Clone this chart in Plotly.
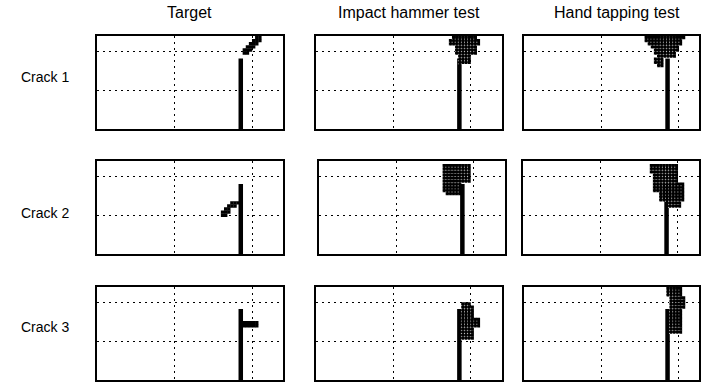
import numpy as np
import plotly.graph_objects as go

# Plate coordinates (m): width 1.2, height 0.6; grid at 0.5 / 1.0 and 0.25 / 0.5
PLATE_W = 1.2
PLATE_H = 0.6
GRID_X = [0.5, 1.0]
GRID_Y = [0.25, 0.5]
CELL = 0.02

COLUMN_TITLES = ["Target", "Impact hammer test", "Hand tapping test"]
ROW_LABELS = ["Crack 1", "Crack 2", "Crack 3"]

# Saw-cut slot for each crack case: x position and tip height
CRACK_X = [0.927, 0.927, 0.927]
CRACK_TOP = [0.455, 0.452, 0.458]

# Damaged cells as row runs: (cell-centre y, first cell-centre x, last cell-centre x)
TARGET_CELLS = [
    [(0.49, 0.95, 0.97), (0.51, 0.95, 0.99), (0.53, 0.97, 1.01),
     (0.55, 0.99, 1.03), (0.57, 1.01, 1.05), (0.59, 1.03, 1.05)],
    [(0.33, 0.87, 0.91), (0.31, 0.85, 0.89), (0.29, 0.83, 0.85),
     (0.27, 0.81, 0.85), (0.25, 0.81, 0.83)],
    [(0.37, 0.95, 1.03), (0.35, 0.95, 1.03)],
]

HAMMER_CELLS = [
    [(0.59, 0.89, 1.03), (0.57, 0.87, 1.05), (0.55, 0.87, 1.05),
     (0.53, 0.91, 1.03), (0.51, 0.91, 1.03), (0.49, 0.91, 1.03),
     (0.47, 0.93, 0.99), (0.45, 0.93, 0.99), (0.43, 0.93, 0.99)],
    [(0.57, 0.81, 0.97), (0.55, 0.81, 0.97), (0.53, 0.81, 0.97),
     (0.51, 0.81, 0.97), (0.49, 0.81, 0.97), (0.47, 0.81, 0.97),
     (0.45, 0.81, 0.91), (0.43, 0.81, 0.91), (0.41, 0.81, 0.91),
     (0.39, 0.83, 0.91)],
    [(0.49, 0.95, 0.99), (0.47, 0.95, 1.01), (0.45, 0.95, 1.01),
     (0.43, 0.95, 1.01), (0.41, 0.95, 1.01), (0.39, 0.95, 1.05),
     (0.37, 0.95, 1.05), (0.35, 0.95, 1.05), (0.33, 0.95, 1.01),
     (0.31, 0.95, 1.01), (0.29, 0.95, 1.01), (0.27, 0.95, 1.01)],
]

TAPPING_CELLS = [
    [(0.59, 0.79, 1.03), (0.57, 0.79, 1.01), (0.55, 0.81, 1.01),
     (0.53, 0.83, 0.99), (0.51, 0.85, 0.99), (0.49, 0.85, 0.97),
     (0.47, 0.87, 0.97), (0.45, 0.85, 0.89), (0.43, 0.85, 0.89),
     (0.41, 0.87, 0.89)],
    [(0.57, 0.83, 0.99), (0.55, 0.83, 0.99), (0.53, 0.83, 0.99),
     (0.51, 0.85, 0.99), (0.49, 0.85, 0.99), (0.47, 0.85, 0.99),
     (0.45, 0.85, 1.03), (0.43, 0.85, 1.03), (0.41, 0.85, 1.03),
     (0.39, 0.89, 1.03), (0.37, 0.89, 1.03), (0.35, 0.89, 1.03),
     (0.33, 0.95, 1.01), (0.31, 0.95, 1.01)],
    [(0.59, 0.93, 1.01), (0.57, 0.93, 1.01), (0.55, 0.93, 1.01),
     (0.53, 0.95, 1.03), (0.51, 0.95, 1.03), (0.49, 0.95, 1.03),
     (0.47, 0.95, 1.03), (0.45, 0.95, 1.01), (0.43, 0.95, 1.01),
     (0.41, 0.95, 1.01), (0.39, 0.95, 1.01), (0.37, 0.95, 1.01),
     (0.35, 0.95, 1.01), (0.33, 0.95, 1.01), (0.31, 0.95, 1.01)],
]

PANEL_CELLS = [TARGET_CELLS, HAMMER_CELLS, TAPPING_CELLS]

FIG_W, FIG_H = 701, 382
# Plot-area pixel boxes: columns (left, right) per row, rows (top, bottom)
COL_BOXES = [
    [(97, 284), (317, 503), (525, 712)],
    [(97, 284), (320, 506), (524, 711)],
    [(97, 284), (317, 503), (525, 712)],
]
ROW_BOXES = [(36, 129), (161, 254), (287, 380)]
ROW_LABEL_Y = [77, 213, 327]

TITLE_FONT = dict(family="Liberation Sans, Arial, sans-serif", size=16, color="black")
LABEL_FONT = dict(family="Liberation Sans, Arial, sans-serif", size=14, color="black")


def expand(runs):
    xs, ys = [], []
    for y, x0, x1 in runs:
        n = int(round((x1 - x0) / CELL)) + 1
        for k in range(n):
            xs.append(round(x0 + k * CELL, 4))
            ys.append(y)
    return xs, ys


fig = go.Figure()
layout = {}
annotations = []

for r in range(3):
    top, bottom = ROW_BOXES[r]
    for c in range(3):
        left, right = COL_BOXES[r][c]
        idx = r * 3 + c + 1
        sfx = "" if idx == 1 else str(idx)
        xa, ya = "x" + sfx, "y" + sfx

        # clip the panel at the page edge, keeping the plate scale
        vis_right = min(right, FIG_W)
        x_max = PLATE_W * (vis_right - left) / (right - left)

        axis_common = dict(
            showline=True, linewidth=2, linecolor="black", mirror=True,
            showgrid=True, gridcolor="black", gridwidth=1, griddash="2px,4px",
            ticks="", showticklabels=False, zeroline=False, fixedrange=True,
        )
        layout["xaxis" + sfx] = dict(
            axis_common, domain=[left / FIG_W, vis_right / FIG_W],
            range=[0, x_max], tickvals=GRID_X, anchor=ya,
        )
        layout["yaxis" + sfx] = dict(
            axis_common, domain=[1 - bottom / FIG_H, 1 - top / FIG_H],
            range=[0, PLATE_H], tickvals=GRID_Y, anchor=xa,
        )

        # slot
        fig.add_trace(go.Scatter(
            x=[CRACK_X[r], CRACK_X[r]], y=[0, CRACK_TOP[r]], mode="lines",
            line=dict(color="black", width=4.5), xaxis=xa, yaxis=ya,
            hoverinfo="skip",
        ))

        # damaged cells
        cx, cy = expand(PANEL_CELLS[c][r])
        fig.add_trace(go.Scatter(
            x=cx, y=cy, mode="markers",
            marker=dict(symbol="square", size=3.4, color="black", line=dict(width=0)),
            xaxis=xa, yaxis=ya, hoverinfo="skip",
        ))
        if c > 0:
            # identified cells are drawn with a dotted fill
            fig.add_trace(go.Scatter(
                x=[v - CELL / 2 for v in cx], y=[v - CELL / 2 for v in cy],
                mode="markers",
                marker=dict(symbol="square", size=0.9, color="white",
                            opacity=0.8, line=dict(width=0)),
                xaxis=xa, yaxis=ya, hoverinfo="skip",
            ))

        if r == 0:
            annotations.append(dict(
                text=COLUMN_TITLES[c], xref="paper", yref="paper",
                x=((left + right) / 2) / FIG_W, y=1 - 12 / FIG_H,
                xanchor="center", yanchor="middle", showarrow=False, font=TITLE_FONT,
            ))
    annotations.append(dict(
        text=ROW_LABELS[r], xref="paper", yref="paper",
        x=45 / FIG_W, y=1 - ROW_LABEL_Y[r] / FIG_H,
        xanchor="center", yanchor="middle", showarrow=False, font=LABEL_FONT,
    ))

fig.update_layout(
    width=FIG_W, height=FIG_H,
    margin=dict(l=0, r=0, t=0, b=0),
    paper_bgcolor="white", plot_bgcolor="white",
    showlegend=False, annotations=annotations,
    **layout,
)

fig.write_html("out.html")
